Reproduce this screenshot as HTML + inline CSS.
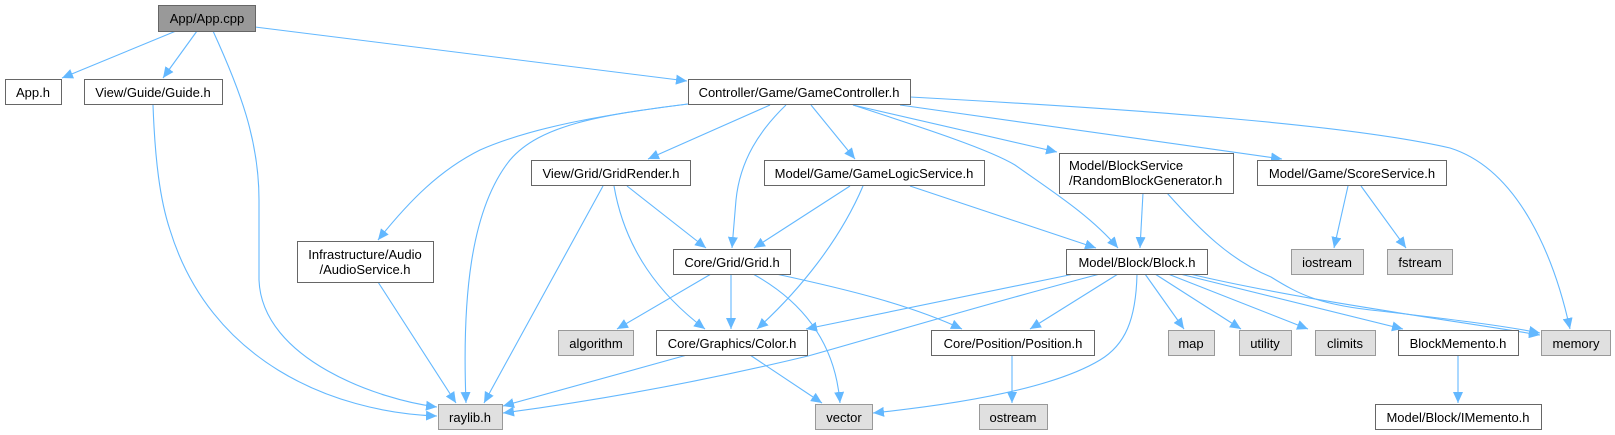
<!DOCTYPE html>
<html><head><meta charset="utf-8">
<style>
html,body{margin:0;padding:0;background:#fff;}
svg{display:block;}
text{font-family:"Liberation Sans",Arial,sans-serif;font-size:13px;fill:#000;}
</style></head>
<body>
<svg width="1615" height="435" viewBox="0 0 1615 435" xmlns="http://www.w3.org/2000/svg">
<defs>
<marker id="a" markerUnits="userSpaceOnUse" markerWidth="12" markerHeight="10" refX="11" refY="5" orient="auto">
<polygon points="0,0 11,5 0,10" fill="#63b8ff"/>
</marker>
</defs>
<g fill="none" stroke="#63b8ff" stroke-width="1.1" marker-end="url(#a)">
<!-- App.cpp -->
<path d="M176,31 L62,78"/>
<path d="M197,31 L163,78"/>
<path d="M213,31 C240,90 259,140 259,200 L259,280 C262,360 380,400 437,407"/>
<path d="M255,27 L687,81"/>
<!-- Guide -> raylib -->
<path d="M153,105 C155,160 160,200 170,230 C210,360 330,412 437,416"/>
<!-- GameController -->
<path d="M688,104 C600,115 530,128 480,150 C440,170 410,200 378,240"/>
<path d="M688,104 C600,115 540,125 510,160 C470,210 462,300 466,403"/>
<path d="M770,105 L648,159"/>
<path d="M786,105 C760,130 740,160 736,200 L732,248"/>
<path d="M811,105 L855,159"/>
<path d="M853,105 C930,130 990,150 1015,165 C1050,190 1090,215 1118,248"/>
<path d="M853,105 L1057,152"/>
<path d="M900,105 L1282,159"/>
<path d="M910,97 C1150,110 1350,125 1450,148 C1520,170 1555,260 1570,329"/>
<!-- GridRender -->
<path d="M603,186 L484,403"/>
<path d="M627,186 L706,248"/>
<path d="M614,186 C625,250 660,295 705,329"/>
<!-- GameLogicService -->
<path d="M850,186 L754,248"/>
<path d="M863,186 C840,240 800,290 757,329"/>
<path d="M910,186 L1096,248"/>
<!-- RandomBlockGenerator -->
<path d="M1143,193 L1140,248"/>
<path d="M1167,193 C1200,230 1230,260 1271,277 C1300,295 1320,305 1380,311 C1440,318 1500,325 1540,333"/>
<!-- ScoreService -->
<path d="M1348,186 L1334,248"/>
<path d="M1361,186 L1406,248"/>
<!-- Grid -->
<path d="M711,274 L617,329"/>
<path d="M731,274 L731,329"/>
<path d="M753,274 C800,300 835,340 840,403"/>
<path d="M776,274 C850,290 910,305 962,329"/>
<!-- AudioService -->
<path d="M378,282 L456,403"/>
<!-- Color -->
<path d="M687,355 L503,406"/>
<path d="M750,355 L822,403"/>
<!-- Block -->
<path d="M1074,274 L806,329"/>
<path d="M1100,274 C1000,300 900,330 808,356 C700,382 600,400 503,413"/>
<path d="M1118,274 L1030,329"/>
<path d="M1137,274 C1136,320 1125,345 1100,360 C1050,390 950,405 873,413"/>
<path d="M1145,274 L1184,329"/>
<path d="M1155,274 L1241,329"/>
<path d="M1168,274 L1308,329"/>
<path d="M1180,274 L1403,329"/>
<path d="M1190,274 C1300,300 1450,320 1540,335"/>
<!-- Position / BlockMemento -->
<path d="M1012,355 L1012,403"/>
<path d="M1458,355 L1458,403"/>
</g>
<g stroke-width="1">
<!-- white nodes -->
<g fill="#fff" stroke="#666">
<rect x="5.5" y="79.5" width="56" height="25"/>
<rect x="84.5" y="79.5" width="138" height="25"/>
<rect x="688.5" y="79.5" width="222" height="25"/>
<rect x="531.5" y="160.5" width="159" height="25"/>
<rect x="764.5" y="160.5" width="220" height="25"/>
<rect x="1059.5" y="153.5" width="174" height="40"/>
<rect x="1257.5" y="160.5" width="189" height="25"/>
<rect x="297.5" y="241.5" width="136" height="41"/>
<rect x="673.5" y="249.5" width="117" height="25"/>
<rect x="1066.5" y="249.5" width="141" height="25"/>
<rect x="656.5" y="330.5" width="151" height="25"/>
<rect x="931.5" y="330.5" width="163" height="25"/>
<rect x="1398.5" y="330.5" width="120" height="25"/>
<rect x="1375.5" y="404.5" width="166" height="25"/>
</g>
<!-- gray nodes -->
<g fill="#e0e0e0" stroke="#999">
<rect x="1291.5" y="249.5" width="72" height="25"/>
<rect x="1387.5" y="249.5" width="65" height="25"/>
<rect x="558.5" y="330.5" width="75" height="25"/>
<rect x="1168.5" y="330.5" width="46" height="25"/>
<rect x="1239.5" y="330.5" width="52" height="25"/>
<rect x="1315.5" y="330.5" width="60" height="25"/>
<rect x="1541.5" y="330.5" width="69" height="25"/>
<rect x="438.5" y="404.5" width="64" height="25"/>
<rect x="815.5" y="404.5" width="57" height="25"/>
<rect x="979.5" y="404.5" width="68" height="25"/>
</g>
<rect x="158.5" y="5.5" width="97" height="26" fill="#999" stroke="#666"/>
</g>
<g text-anchor="middle">
<text x="207" y="23">App/App.cpp</text>
<text x="33" y="97">App.h</text>
<text x="153" y="97">View/Guide/Guide.h</text>
<text x="799" y="97">Controller/Game/GameController.h</text>
<text x="611" y="178">View/Grid/GridRender.h</text>
<text x="874" y="178">Model/Game/GameLogicService.h</text>
<text x="1352" y="178">Model/Game/ScoreService.h</text>
<text x="365" y="259">Infrastructure/Audio</text>
<text x="365" y="274">/AudioService.h</text>
<text x="732" y="267">Core/Grid/Grid.h</text>
<text x="1137" y="267">Model/Block/Block.h</text>
<text x="1327" y="267">iostream</text>
<text x="1420" y="267">fstream</text>
<text x="596" y="348">algorithm</text>
<text x="732" y="348">Core/Graphics/Color.h</text>
<text x="1013" y="348">Core/Position/Position.h</text>
<text x="1191" y="348">map</text>
<text x="1265" y="348">utility</text>
<text x="1345" y="348">climits</text>
<text x="1458" y="348">BlockMemento.h</text>
<text x="1576" y="348">memory</text>
<text x="470" y="422">raylib.h</text>
<text x="844" y="422">vector</text>
<text x="1013" y="422">ostream</text>
<text x="1458" y="422">Model/Block/IMemento.h</text>
</g>
<text x="1069" y="170">Model/BlockService</text>
<text x="1069" y="185">/RandomBlockGenerator.h</text>
</svg>
</body></html>
